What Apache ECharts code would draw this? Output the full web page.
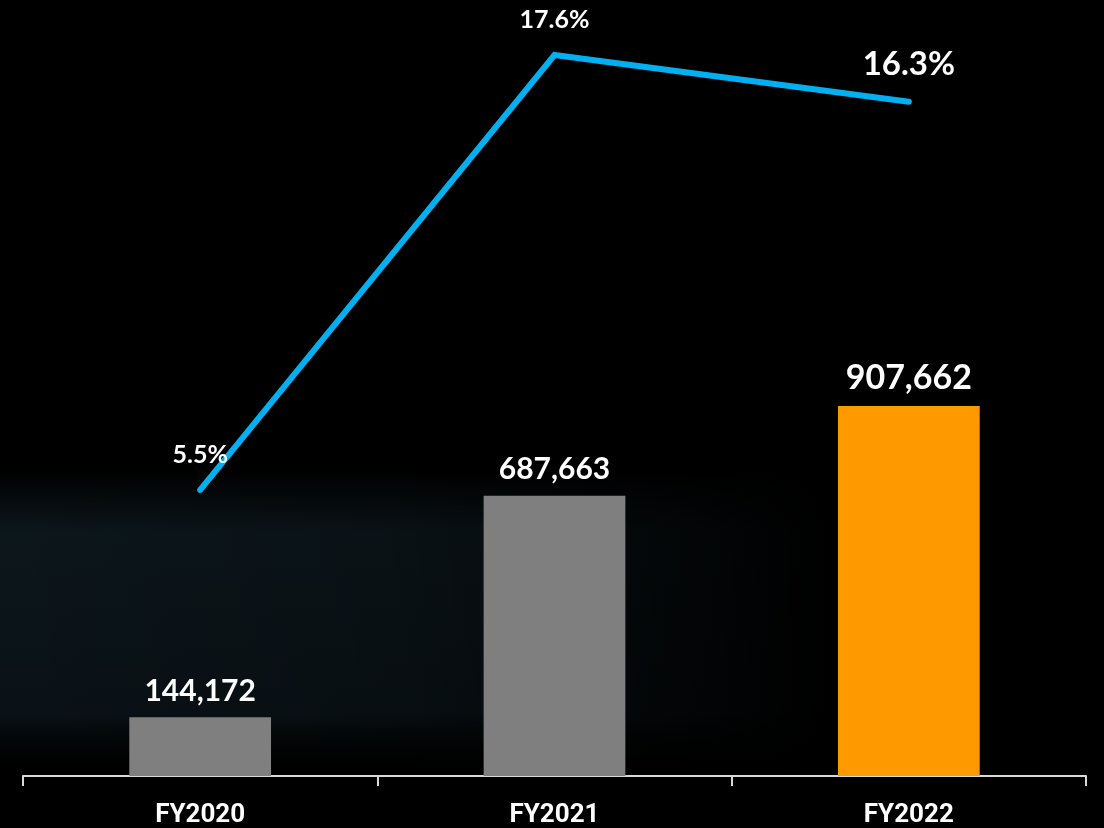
<!DOCTYPE html>
<html><head><meta charset="utf-8">
<script src="https://cdn.jsdelivr.net/npm/echarts@6/dist/echarts.min.js"></script>
<style>html,body{margin:0;padding:0;background:#000;}#c{width:1104px;height:828px;}</style>
</head><body><div id="c"></div>
<script>
const categories = ['FY2020', 'FY2021', 'FY2022'];
const barValues = [144172, 687663, 907662];
const ratioValues = [5.5, 17.6, 16.3];

const chart = echarts.init(document.getElementById('c'));
const barColors = ['#7f7f7f', '#7f7f7f', '#ff9900'];
const fmt = v => v.toLocaleString('en-US');

chart.setOption({
  backgroundColor: '#000',
  graphic: [
    {
      type: 'rect', silent: true, z: 0,
      shape: { x: 0, y: 470, width: 1104, height: 306 },
      style: {
        fill: new echarts.graphic.LinearGradient(0, 0, 0, 1, [
          { offset: 0, color: 'rgba(14,26,32,0)' },
          { offset: 0.2, color: 'rgba(14,26,32,0.85)' },
          { offset: 0.8, color: 'rgba(12,22,28,0.8)' },
          { offset: 1, color: 'rgba(0,0,0,0)' }
        ])
      }
    },
    {
      type: 'rect', silent: true, z: 1,
      shape: { x: 0, y: 460, width: 1104, height: 320 },
      style: {
        fill: new echarts.graphic.LinearGradient(0, 0, 1, 0, [
          { offset: 0, color: 'rgba(0,0,0,0)' },
          { offset: 0.35, color: 'rgba(0,0,0,0.2)' },
          { offset: 0.75, color: 'rgba(0,0,0,1)' },
          { offset: 1, color: 'rgba(0,0,0,1)' }
        ])
      }
    }
  ],
  grid: { left: 23, right: 18, top: 0, bottom: 51 },
  xAxis: {
    type: 'category', data: categories, z: 3,
    axisLine: { lineStyle: { color: '#d9d9d9', width: 2 } },
    axisTick: { show: true, length: 10, lineStyle: { color: '#d9d9d9', width: 2 } },
    axisLabel: { color: '#fff', fontFamily: 'Roboto', fontWeight: 'bold', fontSize: 26, margin: 26 }
  },
  yAxis: [
    { type: 'value', min: 0, max: 1904000, show: false, splitLine: { show: false } },
    { type: 'value', min: -2.46, max: 19.13, show: false, splitLine: { show: false } }
  ],
  series: [
    {
      type: 'bar', yAxisIndex: 0, barWidth: '40%', z: 3,
      data: barValues.map((v, i) => ({
        value: v,
        itemStyle: { color: barColors[i] },
        label: { fontSize: i === 2 ? 34 : 30 }
      })),
      label: {
        show: true, position: 'top', distance: 11, color: '#fff',
        fontFamily: 'Lato', fontWeight: 'bold', formatter: p => fmt(p.value)
      }
    },
    {
      type: 'line', yAxisIndex: 1,
      data: ratioValues.map((v, i) => ({
        value: v,
        label: { fontSize: i === 2 ? 33 : 25, distance: i === 2 ? 20 : 22 }
      })),
      symbol: 'circle', symbolSize: 1, showSymbol: true,
      itemStyle: { color: 'rgba(0,0,0,0)' },
      lineStyle: { color: '#00b0f0', width: 6, cap: 'round', join: 'miter' },
      label: {
        show: true, position: 'top', color: '#fff',
        fontFamily: 'Lato', fontWeight: 'bold', formatter: p => p.value.toFixed(1) + '%'
      },
      z: 5
    }
  ]
});
</script></body></html>
